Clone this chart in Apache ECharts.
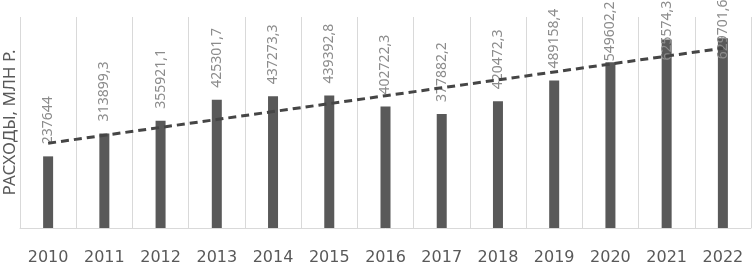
<!DOCTYPE html>
<html>
<head>
<meta charset="utf-8">
<script src="https://cdn.jsdelivr.net/npm/echarts@6/dist/echarts.min.js"></script>
<style>
  html, body { margin: 0; padding: 0; background: #fff; }
  #main { width: 752px; height: 263px; }
</style>
</head>
<body>
<div id="main"></div>
<script>
const years = ['2010', '2011', '2012', '2013', '2014', '2015', '2016', '2017', '2018', '2019', '2020', '2021', '2022'];
const expenses = [237644, 313899.3, 355921.1, 425301.7, 437273.3, 439392.8, 402722.3, 377882.2, 420472.3, 489158.4, 549602.2, 625574.3, 629701.6];

// linear trend (least squares), like the spreadsheet trendline
const n = expenses.length;
const meanX = (n - 1) / 2;
const meanY = expenses.reduce((a, b) => a + b, 0) / n;
let sxy = 0, sxx = 0;
expenses.forEach((v, i) => { sxy += (i - meanX) * (v - meanY); sxx += (i - meanX) * (i - meanX); });
const slope = sxy / sxx;
const trend = expenses.map((v, i) => meanY + slope * (i - meanX));

// tall bars: label is pushed down so it stays inside the chart
const labelShift = { 10: 1, 11: -21, 12: -21 };
const barData = expenses.map((v, i) => i in labelShift ? { value: v, label: { distance: labelShift[i] } } : v);

let chart = echarts.init(document.getElementById('main'));

const option = {
  animation: false,
  grid: { left: 20, right: 1, top: 17, bottom: 35, outerBoundsMode: 'none' },
  xAxis: {
    type: 'category',
    data: years,
    axisLine: { lineStyle: { color: '#d9d9d9', width: 1 } },
    axisTick: { show: false },
    splitLine: { show: true, lineStyle: { color: '#d9d9d9', width: 1 } },
    axisLabel: { color: '#595959', fontSize: 16, fontFamily: 'DejaVu Sans', margin: 22 }
  },
  yAxis: {
    type: 'value',
    min: 0,
    max: 700000,
    name: 'РАСХОДЫ, МЛН Р.',
    nameLocation: 'middle',
    nameGap: 1,
    nameTextStyle: { color: '#595959', fontSize: 17, fontFamily: 'Noto Sans' },
    axisLine: { show: false },
    axisTick: { show: false },
    axisLabel: { show: false },
    splitLine: { show: false }
  },
  series: [
    {
      type: 'bar',
      data: barData,
      barWidth: 10,
      itemStyle: { color: '#595959' },
      label: {
        show: true,
        position: 'top',
        rotate: 90,
        align: 'left',
        verticalAlign: 'middle',
        distance: 12,
        color: '#8c8c8c',
        fontSize: 14,
        fontFamily: 'Noto Sans',
        formatter: p => String(p.value).replace('.', ',')
      }
    },
    {
      type: 'line',
      data: trend,
      symbol: 'none',
      z: 5,
      lineStyle: { color: '#454545', width: 3, type: [8, 5] }
    }
  ]
};

chart.setOption(option);
</script>
</body>
</html>
